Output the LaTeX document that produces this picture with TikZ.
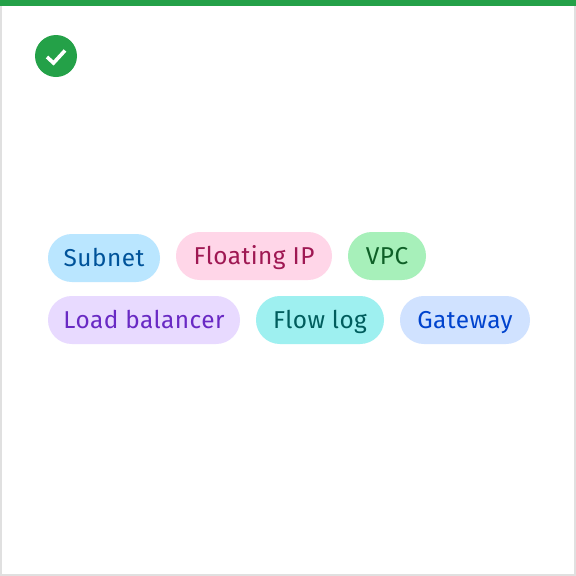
\documentclass[tikz,border=0pt]{standalone}
\usepackage{fontspec}
\setmainfont[LetterSpace=2]{Fira Sans}
\definecolor{cgreen}{HTML}{24A148}
\definecolor{cborder}{HTML}{E0E0E0}
\tikzset{
  x=1pt,y=-1pt,
  pill/.style={rectangle,rounded corners=23.9pt,inner sep=0pt,minimum height=48pt,
    font=\fontsize{24.4pt}{28pt}\selectfont,text height=19pt,text depth=3pt,align=center},
}
\begin{document}
\begin{tikzpicture}
\useasboundingbox (0,0) rectangle (576,576);
\fill[white] (0,0) rectangle (576,576);
\draw[cborder,line width=2pt] (1,1) rectangle (575,575);
\fill[cgreen] (0,0) rectangle (576,6);
\node[circle,fill=cgreen,minimum size=42pt,inner sep=0pt] (ok) at (56,56) {};
\draw[white,line width=3.6pt] (47,57) -- (53.5,63) -- (65,50.5);
\node[pill,fill={rgb,255:red,186;green,230;blue,255},text={rgb,255:red,0;green,83;blue,154},minimum width=112pt] (subnet) at (104,258) {Subnet};
\node[pill,fill={rgb,255:red,255;green,214;blue,232},text={rgb,255:red,159;green,24;blue,83},minimum width=156pt] (fip) at (254,256) {Floating IP};
\node[pill,fill={rgb,255:red,167;green,240;blue,186},text={rgb,255:red,14;green,96;blue,39},minimum width=78pt] (vpc) at (387,256) {VPC};
\node[pill,fill={rgb,255:red,232;green,218;blue,255},text={rgb,255:red,105;green,41;blue,196},minimum width=192pt] (lb) at (144,320) {Load balancer};
\node[pill,fill={rgb,255:red,158;green,240;blue,240},text={rgb,255:red,0;green,93;blue,93},minimum width=128pt] (flow) at (320,320) {Flow log};
\node[pill,fill={rgb,255:red,208;green,226;blue,255},text={rgb,255:red,0;green,67;blue,206},minimum width=130pt] (gw) at (465,320) {Gateway};
\end{tikzpicture}
\end{document}
